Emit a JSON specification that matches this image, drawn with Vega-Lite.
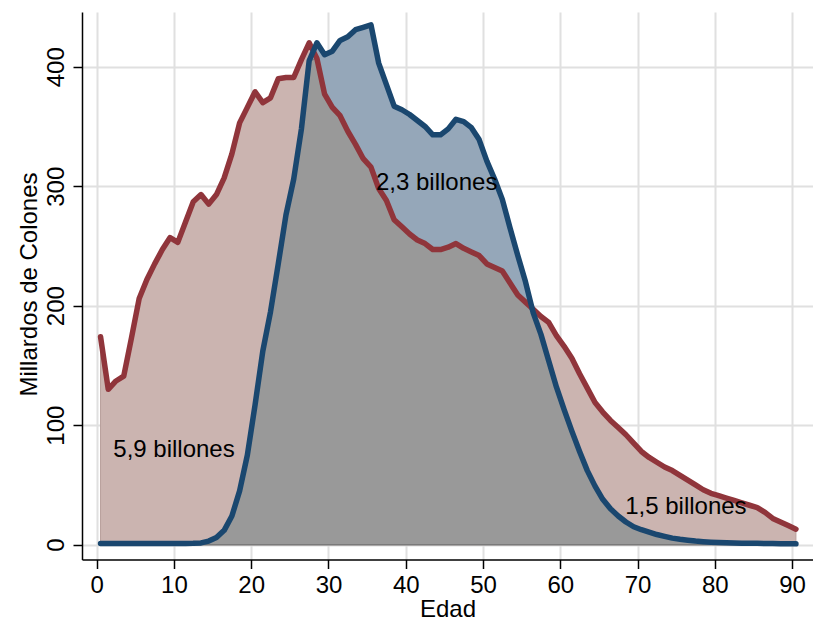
{
  "$schema": "https://vega.github.io/schema/vega-lite/v6.json",
  "autosize": {"type": "none"},
  "padding": {"left": 82, "top": 12, "right": 0, "bottom": 63.5},
  "width": 731,
  "height": 547.5,
  "background": "white",
  "config": {
    "view": {"stroke": null},
    "font": "Liberation Sans",
    "axis": {
      "grid": true,
      "gridColor": "#e0e0e0",
      "gridWidth": 2,
      "domainColor": "#000000",
      "domainWidth": 1.5,
      "tickColor": "#000000",
      "tickWidth": 1.5,
      "tickSize": 9,
      "labelFontSize": 24,
      "labelColor": "#000000",
      "labelFont": "Liberation Sans",
      "titleFont": "Liberation Sans",
      "titleFontSize": 24,
      "titleFontWeight": "normal",
      "titleColor": "#000000",
      "labelFlush": false,
      "labelOverlap": false
    },
    "axisX": {"labelPadding": 5, "titlePadding": 0},
    "axisY": {
      "labelAngle": 270,
      "labelAlign": "center",
      "labelBaseline": "alphabetic",
      "labelPadding": 10,
      "titleAngle": 270,
      "titleBaseline": "alphabetic",
      "titleAlign": "center",
      "titleX": -46,
      "titleY": 272
    }
  },
  "data": {
    "values": [
      {"age": 0.5, "cons": 174, "lab": 1.0, "low": 1.0},
      {"age": 1.5, "cons": 130, "lab": 1.0, "low": 1.0},
      {"age": 2.5, "cons": 137, "lab": 1.0, "low": 1.0},
      {"age": 3.5, "cons": 141, "lab": 1.0, "low": 1.0},
      {"age": 4.5, "cons": 173, "lab": 1.0, "low": 1.0},
      {"age": 5.5, "cons": 206, "lab": 1.0, "low": 1.0},
      {"age": 6.5, "cons": 222, "lab": 1.0, "low": 1.0},
      {"age": 7.5, "cons": 235, "lab": 1.0, "low": 1.0},
      {"age": 8.5, "cons": 247, "lab": 1.0, "low": 1.0},
      {"age": 9.5, "cons": 257, "lab": 1.0, "low": 1.0},
      {"age": 10.5, "cons": 253, "lab": 1.0, "low": 1.0},
      {"age": 11.5, "cons": 270, "lab": 1.0, "low": 1.0},
      {"age": 12.5, "cons": 287, "lab": 1.1, "low": 1.1},
      {"age": 13.5, "cons": 293, "lab": 1.5, "low": 1.5},
      {"age": 14.5, "cons": 285, "lab": 3.0, "low": 3.0},
      {"age": 15.5, "cons": 293, "lab": 6.0, "low": 6.0},
      {"age": 16.5, "cons": 307, "lab": 12, "low": 12},
      {"age": 17.5, "cons": 327, "lab": 24, "low": 24},
      {"age": 18.5, "cons": 353, "lab": 45, "low": 45},
      {"age": 19.5, "cons": 366, "lab": 75, "low": 75},
      {"age": 20.5, "cons": 379, "lab": 117, "low": 117},
      {"age": 21.5, "cons": 370, "lab": 162, "low": 162},
      {"age": 22.5, "cons": 374, "lab": 195, "low": 195},
      {"age": 23.5, "cons": 390, "lab": 235, "low": 235},
      {"age": 24.5, "cons": 391, "lab": 276, "low": 276},
      {"age": 25.5, "cons": 391, "lab": 306, "low": 306},
      {"age": 26.5, "cons": 406, "lab": 348, "low": 348},
      {"age": 27.5, "cons": 420, "lab": 405, "low": 405},
      {"age": 28.5, "cons": 407, "lab": 420, "low": 407},
      {"age": 29.5, "cons": 377, "lab": 410, "low": 377},
      {"age": 30.5, "cons": 366, "lab": 413, "low": 366},
      {"age": 31.5, "cons": 359, "lab": 422, "low": 359},
      {"age": 32.5, "cons": 346, "lab": 425, "low": 346},
      {"age": 33.5, "cons": 335, "lab": 431, "low": 335},
      {"age": 34.5, "cons": 323, "lab": 433, "low": 323},
      {"age": 35.5, "cons": 316, "lab": 435, "low": 316},
      {"age": 36.5, "cons": 298, "lab": 403, "low": 298},
      {"age": 37.5, "cons": 288, "lab": 385, "low": 288},
      {"age": 38.5, "cons": 272, "lab": 367, "low": 272},
      {"age": 39.5, "cons": 266, "lab": 364, "low": 266},
      {"age": 40.5, "cons": 260, "lab": 360, "low": 260},
      {"age": 41.5, "cons": 255, "lab": 355, "low": 255},
      {"age": 42.5, "cons": 252, "lab": 350, "low": 252},
      {"age": 43.5, "cons": 247, "lab": 343, "low": 247},
      {"age": 44.5, "cons": 247, "lab": 343, "low": 247},
      {"age": 45.5, "cons": 249, "lab": 348, "low": 249},
      {"age": 46.5, "cons": 252, "lab": 356, "low": 252},
      {"age": 47.5, "cons": 248, "lab": 354, "low": 248},
      {"age": 48.5, "cons": 245, "lab": 349, "low": 245},
      {"age": 49.5, "cons": 242, "lab": 339, "low": 242},
      {"age": 50.5, "cons": 235, "lab": 321, "low": 235},
      {"age": 51.5, "cons": 232, "lab": 306, "low": 232},
      {"age": 52.5, "cons": 229, "lab": 289, "low": 229},
      {"age": 53.5, "cons": 219, "lab": 265, "low": 219},
      {"age": 54.5, "cons": 209, "lab": 242, "low": 209},
      {"age": 55.5, "cons": 203, "lab": 220, "low": 203},
      {"age": 56.5, "cons": 197, "lab": 194, "low": 194},
      {"age": 57.5, "cons": 191, "lab": 176, "low": 176},
      {"age": 58.5, "cons": 186, "lab": 154, "low": 154},
      {"age": 59.5, "cons": 175, "lab": 132, "low": 132},
      {"age": 60.5, "cons": 166, "lab": 113, "low": 113},
      {"age": 61.5, "cons": 156, "lab": 95, "low": 95},
      {"age": 62.5, "cons": 143, "lab": 78, "low": 78},
      {"age": 63.5, "cons": 131, "lab": 62, "low": 62},
      {"age": 64.5, "cons": 119, "lab": 49, "low": 49},
      {"age": 65.5, "cons": 111, "lab": 38, "low": 38},
      {"age": 66.5, "cons": 104, "lab": 30, "low": 30},
      {"age": 67.5, "cons": 98, "lab": 24, "low": 24},
      {"age": 68.5, "cons": 92, "lab": 19, "low": 19},
      {"age": 69.5, "cons": 85, "lab": 15, "low": 15},
      {"age": 70.5, "cons": 78, "lab": 12.5, "low": 12.5},
      {"age": 71.5, "cons": 73, "lab": 10.5, "low": 10.5},
      {"age": 72.5, "cons": 69, "lab": 8.5, "low": 8.5},
      {"age": 73.5, "cons": 65, "lab": 7, "low": 7},
      {"age": 74.5, "cons": 62, "lab": 5.5, "low": 5.5},
      {"age": 75.5, "cons": 58, "lab": 4.5, "low": 4.5},
      {"age": 76.5, "cons": 54, "lab": 3.7, "low": 3.7},
      {"age": 77.5, "cons": 50, "lab": 3.0, "low": 3.0},
      {"age": 78.5, "cons": 46, "lab": 2.5, "low": 2.5},
      {"age": 79.5, "cons": 43, "lab": 2.1, "low": 2.1},
      {"age": 80.5, "cons": 41, "lab": 1.8, "low": 1.8},
      {"age": 81.5, "cons": 39, "lab": 1.6, "low": 1.6},
      {"age": 82.5, "cons": 37, "lab": 1.4, "low": 1.4},
      {"age": 83.5, "cons": 35, "lab": 1.3, "low": 1.3},
      {"age": 84.5, "cons": 33, "lab": 1.2, "low": 1.2},
      {"age": 85.5, "cons": 31, "lab": 1.1, "low": 1.1},
      {"age": 86.5, "cons": 27, "lab": 1.0, "low": 1.0},
      {"age": 87.5, "cons": 22, "lab": 0.9, "low": 0.9},
      {"age": 88.5, "cons": 19, "lab": 0.8, "low": 0.8},
      {"age": 89.5, "cons": 16, "lab": 0.8, "low": 0.8},
      {"age": 90.5, "cons": 13, "lab": 0.7, "low": 0.7}
    ]
  },
  "layer": [
    {
      "mark": {"type": "area", "color": "#cbb4b0", "stroke": "#b8a09c", "strokeWidth": 1},
      "encoding": {
        "x": {"field": "age", "type": "quantitative", "title": "Edad",
              "scale": {"domain": [-1.9, 92.71], "nice": false, "zero": false},
              "axis": {"values": [0, 10, 20, 30, 40, 50, 60, 70, 80, 90]}},
        "y": {"field": "cons", "type": "quantitative", "title": "Millardos de Colones",
              "scale": {"domain": [-12.4, 445.8], "nice": false, "zero": false},
              "axis": {"values": [0, 100, 200, 300, 400]}}
      }
    },
    {
      "mark": {"type": "area", "color": "#95a7b9"},
      "encoding": {
        "x": {"field": "age", "type": "quantitative", "title": "Edad"},
        "y": {"field": "lab", "type": "quantitative", "title": "Millardos de Colones"}
      }
    },
    {
      "mark": {"type": "area", "color": "#999999", "stroke": "#7a7a7a", "strokeWidth": 1.5},
      "encoding": {
        "x": {"field": "age", "type": "quantitative", "title": "Edad"},
        "y": {"field": "low", "type": "quantitative", "title": "Millardos de Colones"}
      }
    },
    {
      "mark": {"type": "line", "color": "#90353b", "strokeWidth": 5.5, "strokeJoin": "round", "strokeCap": "round"},
      "encoding": {
        "x": {"field": "age", "type": "quantitative", "title": "Edad"},
        "y": {"field": "cons", "type": "quantitative", "title": "Millardos de Colones"}
      }
    },
    {
      "mark": {"type": "line", "color": "#1a476f", "strokeWidth": 5.5, "strokeJoin": "round", "strokeCap": "round"},
      "encoding": {
        "x": {"field": "age", "type": "quantitative", "title": "Edad"},
        "y": {"field": "lab", "type": "quantitative", "title": "Millardos de Colones"}
      }
    },
    {
      "data": {
        "values": [
          {"age": 2.15, "val": 79, "t": "5,9 billones"},
          {"age": 36.15, "val": 303, "t": "2,3 billones"},
          {"age": 68.4, "val": 31.8, "t": "1,5 billones"}
        ]
      },
      "mark": {"type": "text", "align": "left", "baseline": "middle", "fontSize": 24, "font": "Liberation Sans", "color": "#000000"},
      "encoding": {
        "x": {"field": "age", "type": "quantitative", "title": "Edad"},
        "y": {"field": "val", "type": "quantitative", "title": "Millardos de Colones"},
        "text": {"field": "t", "type": "nominal"}
      }
    }
  ]
}
